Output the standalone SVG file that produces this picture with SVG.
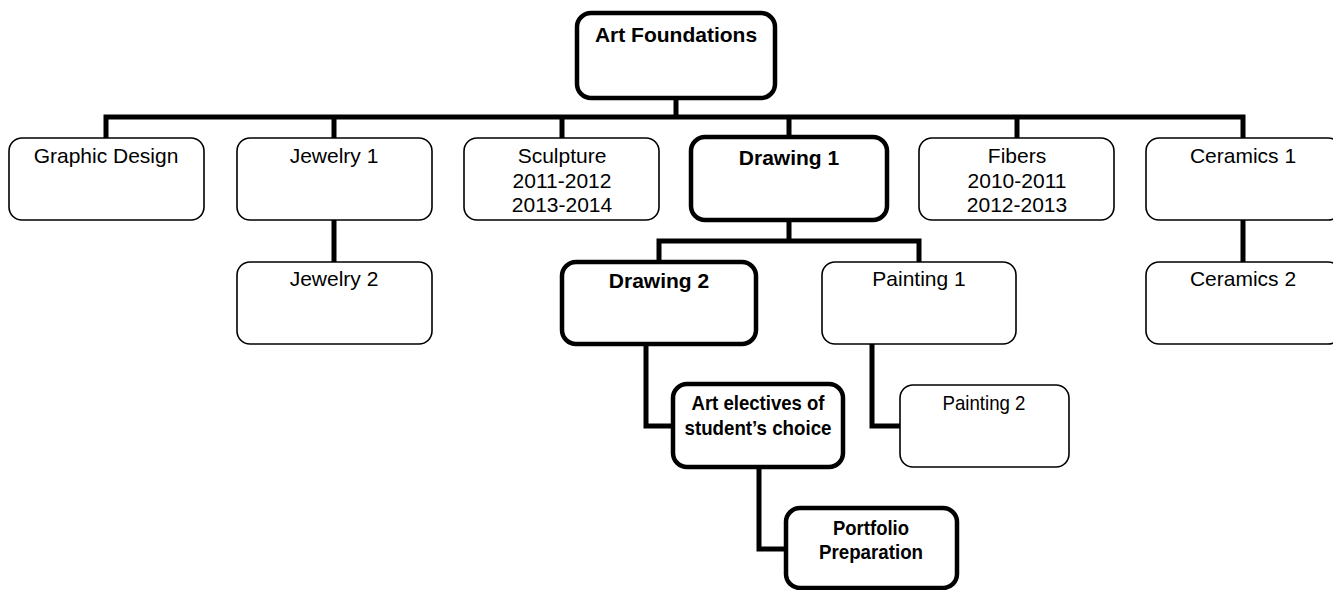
<svg xmlns="http://www.w3.org/2000/svg" width="1333" height="590" viewBox="0 0 1333 590">
<style>
.thin{fill:#fff;stroke:#000;stroke-width:1.6}
.thick{fill:#fff;stroke:#000;stroke-width:4.5}
.t{font-family:"Liberation Sans",Arial,sans-serif;font-size:21px;text-anchor:middle;fill:#000}
.b{font-weight:bold}
.c{fill:none;stroke:#000;stroke-width:5;stroke-linejoin:miter}
</style>
<rect width="1333" height="590" fill="#fff"/>
<g id="connectors">
<path class="c" d="M676 98V117M106 138V117H1243V138"/>
<path class="c" d="M334 117V138M562 117V138M789 117V138M1017 117V138"/>
<path class="c" d="M334 220V263M1243 220V263"/>
<path class="c" d="M789 220V241M659 262V241H919V262"/>
<path class="c" d="M646 344V426H674"/>
<path class="c" d="M872 343V426H901"/>
<path class="c" d="M759 467V549H787"/>
</g>
<g id="art-foundations"><rect class="thick" x="577" y="13" width="198" height="85" rx="14"/><text class="t b" x="676" y="42">Art Foundations</text></g>
<g id="graphic-design"><rect class="thin" x="9" y="138" width="195" height="82" rx="13"/><text class="t" x="106" y="163">Graphic Design</text></g>
<g id="jewelry-1"><rect class="thin" x="237" y="138" width="195" height="82" rx="13"/><text class="t" x="334" y="163">Jewelry 1</text></g>
<g id="jewelry-2"><rect class="thin" x="237" y="262" width="195" height="82" rx="13"/><text class="t" x="334" y="286">Jewelry 2</text></g>
<g id="sculpture"><rect class="thin" x="464" y="138" width="195" height="82" rx="13"/><text class="t" x="562" y="163">Sculpture</text><text class="t" x="562" y="188">2011-2012</text><text class="t" x="562" y="212">2013-2014</text></g>
<g id="drawing-1"><rect class="thick" x="691" y="137" width="196" height="83" rx="14"/><text class="t b" x="789" y="165">Drawing 1</text></g>
<g id="fibers"><rect class="thin" x="919" y="138" width="195" height="82" rx="13"/><text class="t" x="1017" y="163">Fibers</text><text class="t" x="1017" y="188">2010-2011</text><text class="t" x="1017" y="212">2012-2013</text></g>
<g id="ceramics-1"><rect class="thin" x="1146" y="138" width="195" height="82" rx="13"/><text class="t" x="1243" y="163">Ceramics 1</text></g>
<g id="ceramics-2"><rect class="thin" x="1146" y="262" width="195" height="82" rx="13"/><text class="t" x="1243" y="286">Ceramics 2</text></g>
<g id="drawing-2"><rect class="thick" x="562" y="262" width="194" height="82" rx="14"/><text class="t b" x="659" y="288">Drawing 2</text></g>
<g id="painting-1"><rect class="thin" x="822" y="262" width="194" height="82" rx="13"/><text class="t" x="919" y="286">Painting 1</text></g>
<g id="art-electives"><rect class="thick" x="673" y="384" width="170" height="83" rx="14"/><text class="t b" x="758" y="410" textLength="133" lengthAdjust="spacingAndGlyphs">Art electives of</text><text class="t b" x="758" y="435" textLength="147" lengthAdjust="spacingAndGlyphs">student’s choice</text></g>
<g id="painting-2"><rect class="thin" x="900" y="385" width="169" height="82" rx="13"/><text class="t" x="984" y="410" textLength="83" lengthAdjust="spacingAndGlyphs">Painting 2</text></g>
<g id="portfolio"><rect class="thick" x="786" y="508" width="171" height="80" rx="14"/><text class="t b" x="871" y="535" textLength="76" lengthAdjust="spacingAndGlyphs">Portfolio</text><text class="t b" x="871" y="559" textLength="104" lengthAdjust="spacingAndGlyphs">Preparation</text></g>
</svg>
